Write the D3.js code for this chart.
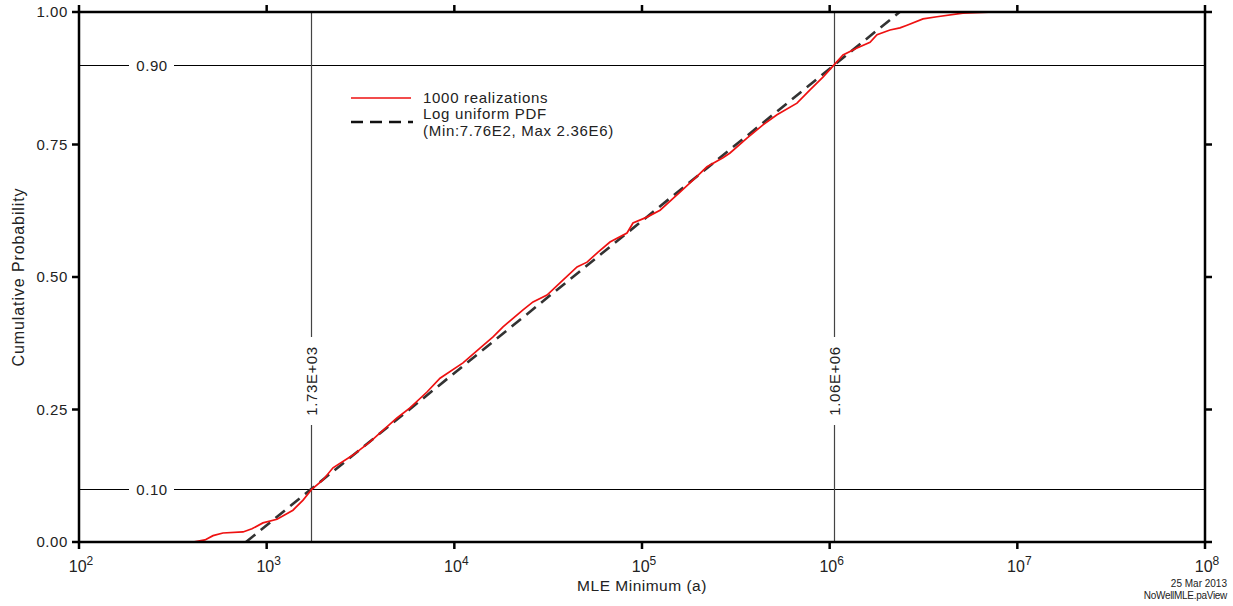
<!DOCTYPE html>
<html>
<head>
<meta charset="utf-8">
<script src="https://cdn.jsdelivr.net/npm/d3@7"></script>
<style>
  html, body { margin: 0; padding: 0; background: #fff; }
  svg { display: block; }
  text { font-family: "Liberation Sans", Arial, sans-serif; fill: #222; }
</style>
</head>
<body>
<svg id="chart" width="1233" height="606"></svg>
<script>
// ---- data ----
const xTickExps = [2, 3, 4, 5, 6, 7, 8];
const yTicks = [0, 0.25, 0.5, 0.75, 1.0];
const yTickLabels = ["0.00", "0.25", "0.50", "0.75", "1.00"];

const realX = [405, 469, 518, 585, 748, 835, 955, 1135, 1381, 1563, 1744, 1995, 2256, 2884, 3554,
  4947, 5803, 7149, 8392, 11120, 13700, 16080, 18170, 23230, 26260, 31180, 36560, 45070, 50950,
  58340, 67500, 83180, 89540, 106300, 124800, 159400, 187000, 222000, 270000, 294500, 362600,
  441300, 524000, 669800, 785700, 921000, 1041000, 1178000, 1399000, 1641000, 1788000, 2096000,
  2370000, 2584000, 3142000, 3730000, 5130000, 7600000];
const realP = [0, 0.004, 0.012, 0.017, 0.019, 0.025, 0.036, 0.043, 0.060, 0.079, 0.100, 0.117, 0.140,
  0.164, 0.189, 0.234, 0.253, 0.283, 0.309, 0.338, 0.366, 0.387, 0.406, 0.438, 0.453, 0.466, 0.489,
  0.519, 0.528, 0.547, 0.566, 0.583, 0.602, 0.613, 0.626, 0.660, 0.683, 0.708, 0.725, 0.734, 0.762,
  0.787, 0.806, 0.828, 0.853, 0.877, 0.898, 0.919, 0.932, 0.943, 0.957, 0.966, 0.970, 0.975, 0.987,
  0.991, 0.998, 1.0];

// log uniform CDF endpoints
const pdfX = [776, 2.36e6];
const pdfP = [0, 1];

// reference lines
const vLines = [{v: 1.73e3, label: "1.73E+03"}, {v: 1.06e6, label: "1.06E+06"}];
const hLines = [{v: 0.10, label: "0.10"}, {v: 0.90, label: "0.90"}];

const legendItems = ["1000 realizations", "Log uniform PDF", "(Min:7.76E2, Max 2.36E6)"];

// ---- layout ----
const L = 79, R = 1205, T = 12, B = 542;
const svg = d3.select("#chart");
const x = d3.scaleLog().domain([1e2, 1e8]).range([L, R]);
const y = d3.scaleLinear().domain([0, 1]).range([B, T]);

// reference lines
hLines.forEach(h => {
  const py = Math.round(y(h.v)) + 0.5;
  svg.append("line").attr("x1", L).attr("x2", R).attr("y1", py).attr("y2", py)
    .attr("stroke", "#000").attr("stroke-width", 1);
  svg.append("rect").attr("x", 129).attr("y", py - 8).attr("width", 45).attr("height", 16).attr("fill", "#fff");
  svg.append("text").attr("x", 152).attr("y", py).attr("dy", "0.36em").attr("text-anchor", "middle")
    .attr("font-size", 15).attr("letter-spacing", 0.6).text(h.label);
});
vLines.forEach(v => {
  const px = Math.round(x(v.v)) + 0.5;
  svg.append("line").attr("x1", px).attr("x2", px).attr("y1", T).attr("y2", B)
    .attr("stroke", "#444").attr("stroke-width", 1.2);
  svg.append("rect").attr("x", px - 9).attr("y", 337).attr("width", 18).attr("height", 88).attr("fill", "#fff");
  svg.append("text").attr("transform", `translate(${px},381) rotate(-90)`).attr("dy", "0.36em")
    .attr("text-anchor", "middle").attr("font-size", 15).attr("letter-spacing", 0.6).text(v.label);
});

// curves
const line = d3.line().x(d => x(d[0])).y(d => y(d[1]));
svg.append("path").datum(pdfX.map((v, i) => [v, pdfP[i]])).attr("d", line)
  .attr("fill", "none").attr("stroke", "#333").attr("stroke-width", 2.6).attr("stroke-dasharray", "12,7");
svg.append("path").datum(realX.map((v, i) => [v, realP[i]])).attr("d", line)
  .attr("fill", "none").attr("stroke", "#ee1111").attr("stroke-width", 1.7);

// frame
svg.append("rect").attr("x", L).attr("y", T).attr("width", R - L).attr("height", B - T)
  .attr("fill", "none").attr("stroke", "#000").attr("stroke-width", 2.5);

// ticks
const xt = xTickExps.map(e => Math.pow(10, e));
xt.forEach(v => {
  svg.append("line").attr("x1", x(v)).attr("x2", x(v)).attr("y1", B).attr("y2", B + 7).attr("stroke", "#000").attr("stroke-width", 2.5);
  svg.append("line").attr("x1", x(v)).attr("x2", x(v)).attr("y1", T).attr("y2", T - 7).attr("stroke", "#000").attr("stroke-width", 2.5);
});
yTicks.forEach(v => {
  svg.append("line").attr("x1", L).attr("x2", L - 7).attr("y1", y(v)).attr("y2", y(v)).attr("stroke", "#000").attr("stroke-width", 2.5);
  svg.append("line").attr("x1", R).attr("x2", R + 7).attr("y1", y(v)).attr("y2", y(v)).attr("stroke", "#000").attr("stroke-width", 2.5);
});

// tick labels
yTicks.forEach((v, i) => {
  svg.append("text").attr("x", 68).attr("y", y(v)).attr("dy", "0.36em").attr("text-anchor", "end")
    .attr("font-size", 15).attr("letter-spacing", 0.6).text(yTickLabels[i]);
});
xTickExps.forEach(e => {
  const t = svg.append("text").attr("x", x(Math.pow(10, e)) + 2).attr("y", 572).attr("text-anchor", "middle")
    .attr("font-size", 16);
  t.append("tspan").text("10");
  t.append("tspan").attr("dy", -7).attr("font-size", 12).text(e);
});

// axis titles
svg.append("text").attr("x", 642).attr("y", 591).attr("text-anchor", "middle")
  .attr("font-size", 15.5).attr("letter-spacing", 0.5).text("MLE Minimum (a)");
svg.append("text").attr("transform", "translate(24,277) rotate(-90)").attr("text-anchor", "middle")
  .attr("font-size", 16).attr("letter-spacing", 0.9).text("Cumulative Probability");

// legend
svg.append("line").attr("x1", 351).attr("x2", 411).attr("y1", 98).attr("y2", 98)
  .attr("stroke", "#ee1111").attr("stroke-width", 1.7);
svg.append("line").attr("x1", 351).attr("x2", 413).attr("y1", 122).attr("y2", 122)
  .attr("stroke", "#111").attr("stroke-width", 2.6).attr("stroke-dasharray", "12,7");
[98, 114, 131].forEach((yy, i) => {
  svg.append("text").attr("x", 423).attr("y", yy).attr("dy", "0.36em")
    .attr("font-size", 15).attr("letter-spacing", 0.7).text(legendItems[i]);
});

// footer
svg.append("text").attr("x", 1227).attr("y", 587).attr("text-anchor", "end").attr("font-size", 10).text("25  Mar  2013");
svg.append("text").attr("x", 1227).attr("y", 599).attr("text-anchor", "end").attr("font-size", 10).attr("letter-spacing", -0.3).text("NoWellMLE.paView");
</script>
</body>
</html>
